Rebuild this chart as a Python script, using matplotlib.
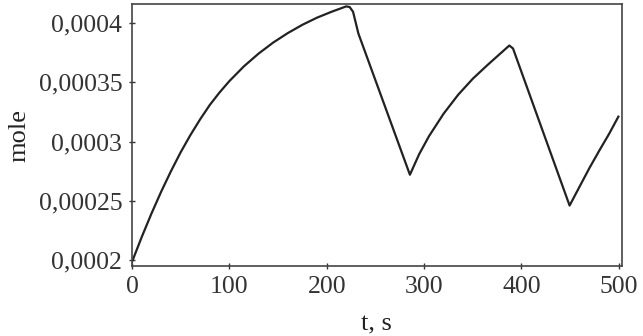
import numpy as np
import matplotlib
matplotlib.use("Agg")
import matplotlib.pyplot as plt
from matplotlib.ticker import FuncFormatter

# time (s) and amount (mole)
t = [0, 10, 20, 30, 40, 50, 60, 70, 80, 90, 100, 115, 130, 145, 160, 175, 190,
     205, 215, 220, 223.5, 227, 232.5,
     285.4, 295, 305, 320, 335, 350, 365, 380, 387.5, 391.3,
     449.4, 460, 470, 480, 490, 499.5]
mole = [0.0001985, 0.0002195, 0.0002393, 0.0002578, 0.000275, 0.000291,
        0.0003055, 0.0003188, 0.000331, 0.0003415, 0.000351, 0.0003635,
        0.0003742, 0.0003835, 0.0003915, 0.0003985, 0.0004045, 0.0004095,
        0.0004125, 0.000414, 0.0004135, 0.0004095, 0.0003911,
        0.000272, 0.0002895, 0.0003045, 0.0003235, 0.0003395, 0.000353,
        0.0003645, 0.0003755, 0.000381, 0.0003785,
        0.000246, 0.0002625, 0.000278, 0.0002925, 0.0003065, 0.000321]

xticks = [0, 100, 200, 300, 400, 500]
yticks = [0.0002, 0.00025, 0.0003, 0.00035, 0.0004]

plt.rcParams['font.family'] = ['Liberation Serif', 'DejaVu Serif']

fig = plt.figure(figsize=(6.43, 3.36), dpi=100)
ax = fig.add_axes([0.2053, 0.2083, 0.7617, 0.7797])

ax.plot(t, mole, color="#222222", lw=1.6, solid_joinstyle="round")

ax.set_xlim(0, 503)
ax.set_ylim(0.000195, 0.000416)
ax.set_xticks(xticks)
ax.set_yticks(yticks)
ax.yaxis.set_major_formatter(FuncFormatter(lambda v, p: f"{v:.5f}".rstrip("0").replace(".", ",")))

ax.tick_params(labelsize=18.5, colors="#333333", length=4, width=1, direction="inout", pad=5)
for s in ax.spines.values():
    s.set_color("#444444")
    s.set_linewidth(1.2)

ax.set_xlabel("t, s", fontsize=19, color="#222222", labelpad=11)
ax.set_ylabel("mole", fontsize=19, color="#222222", labelpad=6)

fig.savefig("out.png", dpi=100)
